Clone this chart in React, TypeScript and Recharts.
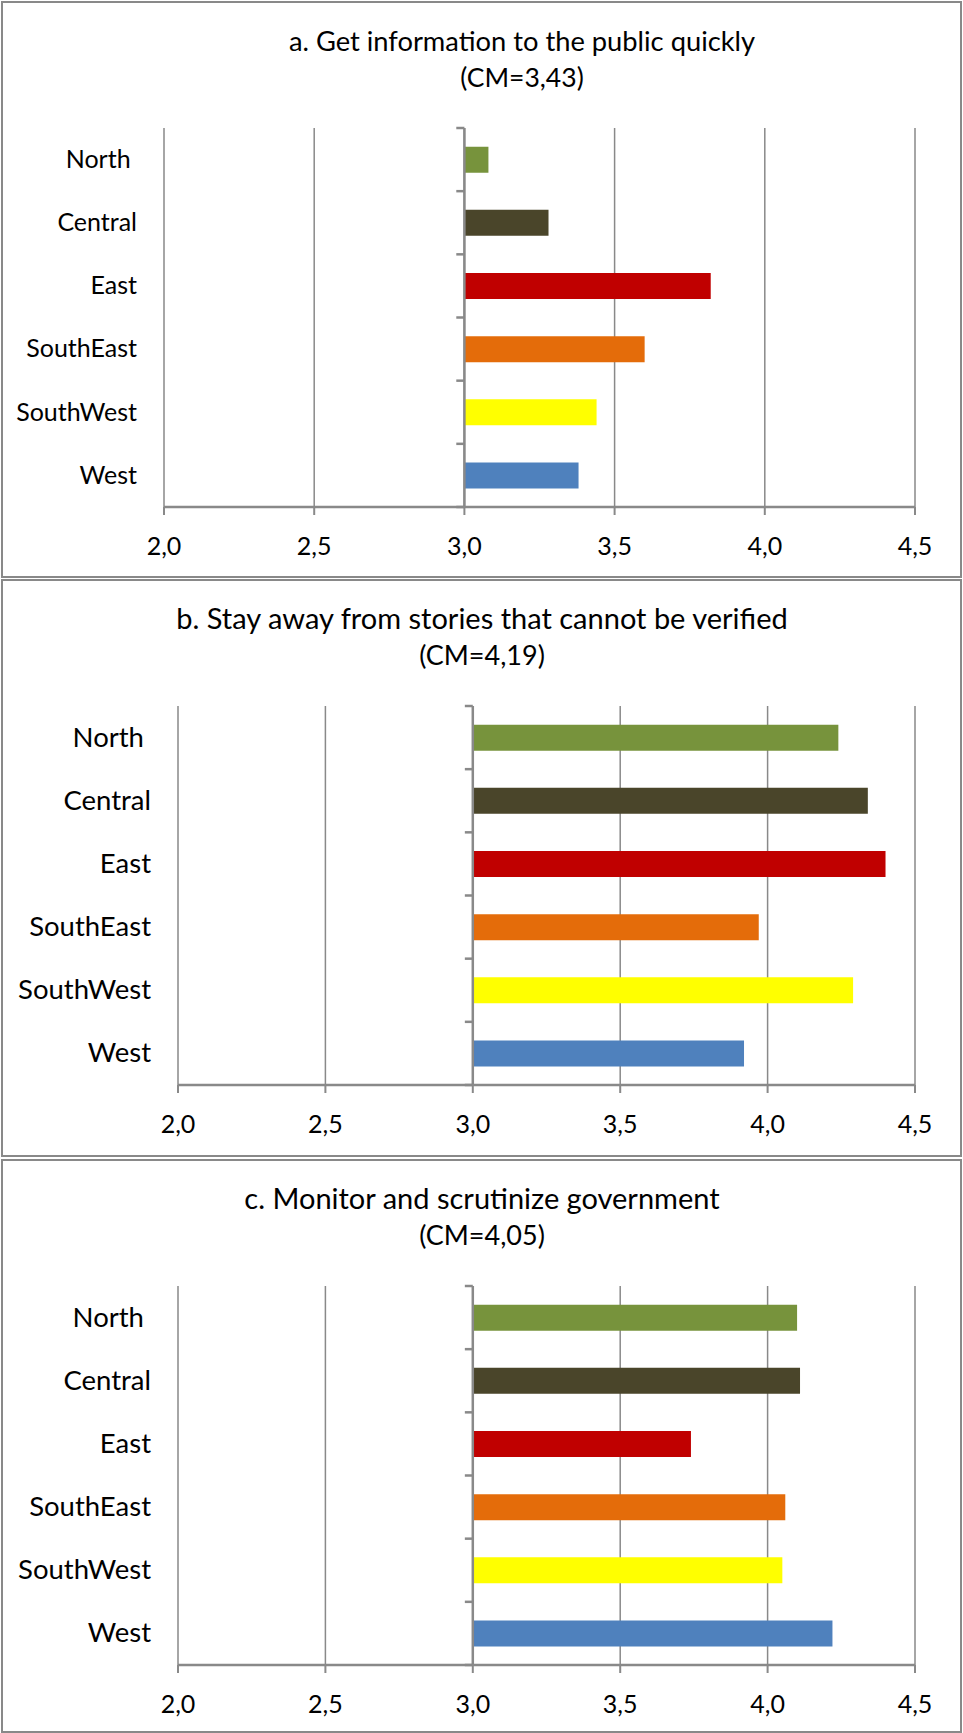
import React from "react";
import { Bar, BarChart, CartesianGrid, Cell, ReferenceLine, XAxis, YAxis } from "recharts";

// regions, top to bottom as in the source ("North " keeps its trailing space)
const regions = ["North ", "Central", "East", "SouthEast", "SouthWest", "West"];
const regionColors = ["#77933C", "#4A452A", "#C00000", "#E46C0A", "#FFFF00", "#4F81BD"];

// mean scores per region, one list per panel
const quicklyScores = [3.08, 3.28, 3.82, 3.6, 3.44, 3.38];
const verifiedScores = [4.24, 4.34, 4.4, 3.97, 4.29, 3.92];
const governmentScores = [4.1, 4.11, 3.74, 4.06, 4.05, 4.22];

const panelTitles = [
  "a. Get information to the public quickly",
  "b. Stay away from stories that cannot be verified",
  "c. Monitor and scrutinize government",
];
const panelMeans = ["3,43", "4,19", "4,05"];

const xTicks = [2, 2.5, 3, 3.5, 4, 4.5];
const axisCross = 3;
// region rows sit in the middle of unit bands; tick marks go on the band edges
const rowCentres = regions.map((_, i) => i + 0.5);
const bandEdges = [0, 1, 2, 3, 4, 5, 6];

const FONT = "Lato, 'Open Sans', sans-serif";
const GRID = "#898989";
const W = 963;
const H = 576;

const fmt = (v: number) => v.toFixed(1).replace(".", ",");

const RegionTick = (props: any) => {
  const { x, y, payload, size } = props;
  return (
    <text
      x={x}
      y={y}
      dy="0.33em"
      textAnchor="end"
      fontFamily={FONT}
      fontSize={size}
      fill="#000"
      style={{ whiteSpace: "pre" }}
    >
      {regions[Math.floor(payload.value)]}
    </text>
  );
};

type PanelProps = {
  top: number;
  height: number;
  scores: number[];
  title: string;
  mean: string;
  axisWidth: number;
  titleX: number;
  labelSize: number;
  titleSize: number;
  meanSize: number;
};

function Panel({ top, height, scores, title, mean, axisWidth, titleX, labelSize, titleSize, meanSize }: PanelProps) {
  const data = regions.map((region, i) => ({
    region,
    pos: rowCentres[i],
    range: [axisCross, scores[i]],
  }));

  return (
    <>
      <div
        style={{
          position: "absolute",
          left: 1,
          top,
          width: 961,
          height,
          boxSizing: "border-box",
          border: `2px solid ${GRID}`,
        }}
      />
      <div style={{ position: "absolute", left: 0, top }}>
        <BarChart
          width={W}
          height={H}
          data={data}
          layout="vertical"
          margin={{ top: 127, right: 48, left: 0, bottom: 10 }}
          barCategoryGap="29.5%"
        >
          <CartesianGrid horizontal={false} stroke={GRID} strokeWidth={1.5} />
          <XAxis
            type="number"
            domain={[2, 4.5]}
            ticks={xTicks}
            tickFormatter={fmt}
            height={60}
            axisLine={{ stroke: GRID, strokeWidth: 2.5 }}
            tickLine={{ stroke: GRID, strokeWidth: 2 }}
            tickSize={8}
            tickMargin={22}
            tick={{ fill: "#000", fontSize: 25, fontFamily: FONT }}
            allowDataOverflow
          />
          <YAxis
            type="number"
            dataKey="pos"
            domain={[0, 6]}
            ticks={rowCentres}
            interval={0}
            width={axisWidth}
            axisLine={false}
            tickLine={false}
            tickSize={0}
            tickMargin={27}
            tick={<RegionTick size={labelSize} />}
          />
          <Bar dataKey="range" isAnimationActive={false}>
            {data.map((d, i) => (
              <Cell key={d.region} fill={regionColors[i]} />
            ))}
          </Bar>
          <ReferenceLine x={axisCross} stroke={GRID} strokeWidth={2.5} />
          {bandEdges.map((k) => (
            <ReferenceLine
              key={k}
              segment={[
                { x: axisCross - 0.027, y: k },
                { x: axisCross, y: k },
              ]}
              stroke={GRID}
              strokeWidth={2.5}
            />
          ))}
        </BarChart>
      </div>
      <svg
        width={W}
        height={100}
        style={{ position: "absolute", left: 0, top, pointerEvents: "none" }}
      >
        <text x={titleX} y={50} textAnchor="middle" fontFamily={FONT} fontSize={titleSize} fill="#000">
          {title}
        </text>
        <text x={titleX} y={86} textAnchor="middle" fontFamily={FONT} fontSize={meanSize} fill="#000">
          (CM={mean})
        </text>
      </svg>
    </>
  );
}

export default function App() {
  return (
    <div
      style={{
        position: "absolute",
        left: 0,
        top: 0,
        width: W,
        height: 1733,
        background: "#fff",
        overflow: "hidden",
      }}
    >
      <Panel
        top={1}
        height={577}
        scores={quicklyScores}
        title={panelTitles[0]}
        mean={panelMeans[0]}
        axisWidth={164}
        titleX={522}
        labelSize={25}
        titleSize={27.3}
        meanSize={26.5}
      />
      <Panel
        top={579}
        height={578}
        scores={verifiedScores}
        title={panelTitles[1]}
        mean={panelMeans[1]}
        axisWidth={178}
        titleX={482}
        labelSize={27.5}
        titleSize={29}
        meanSize={27}
      />
      <Panel
        top={1159}
        height={574}
        scores={governmentScores}
        title={panelTitles[2]}
        mean={panelMeans[2]}
        axisWidth={178}
        titleX={482}
        labelSize={27.5}
        titleSize={29}
        meanSize={27}
      />
    </div>
  );
}
